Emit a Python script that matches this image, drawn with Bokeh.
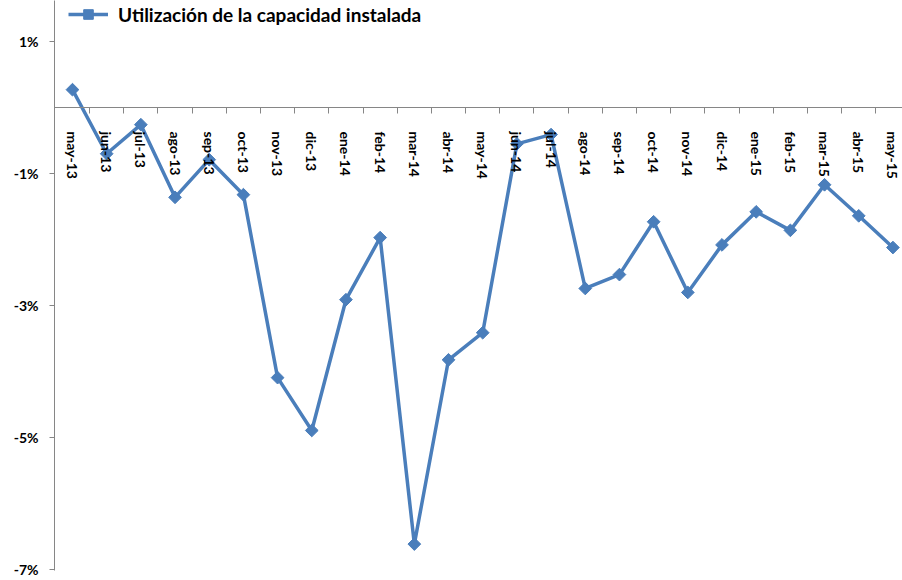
import numpy as np
from bokeh.plotting import figure
from bokeh.models import (Range1d, FixedTicker, LinearAxis, ColumnDataSource, Legend, LegendItem)
from bokeh.embed import file_html
from bokeh.resources import INLINE

months = ["may-13", "jun-13", "jul-13", "ago-13", "sep-13", "oct-13", "nov-13", "dic-13",
          "ene-14", "feb-14", "mar-14", "abr-14", "may-14", "jun-14", "jul-14", "ago-14",
          "sep-14", "oct-14", "nov-14", "dic-14", "ene-15", "feb-15", "mar-15", "abr-15", "may-15"]
values = [0.27, -0.70, -0.26, -1.36, -0.79, -1.32, -4.09, -4.89,
          -2.91, -1.97, -6.61, -3.82, -3.41, -0.55, -0.41, -2.74,
          -2.53, -1.73, -2.80, -2.08, -1.58, -1.86, -1.17, -1.64, -2.12]
y_ticks = [1, -1, -3, -5, -7]
y_tick_labels = ["1%", "-1%", "-3%", "-5%", "-7%"]
series_name = "Utilización de la capacidad instalada"

idx = list(range(len(months)))
src = ColumnDataSource(dict(x=idx, y=values, m=months))

BLUE = "#4A7EBB"
GRAY = "#868686"
FONT = "Lato"

p = figure(width=902, height=580, output_backend="svg", toolbar_location=None,
           x_range=Range1d(-0.526, 24.28), y_range=Range1d(-7.01, 1.62),
           x_axis_location=None, y_axis_location="left",
           min_border_left=54, min_border_right=0, min_border_top=0, min_border_bottom=10)
p.outline_line_color = None
p.grid.visible = False
p.background_fill_color = "white"

# y axis
ya = p.yaxis[0]
ya.ticker = FixedTicker(ticks=y_ticks)
ya.major_label_overrides = {t: l for t, l in zip(y_ticks, y_tick_labels)}
ya.axis_line_color = GRAY
ya.major_tick_line_color = GRAY
ya.major_tick_in = 0
ya.major_tick_out = 5
ya.minor_tick_line_color = None
ya.major_label_text_font = FONT
ya.major_label_text_font_style = "bold"
ya.major_label_text_font_size = "14px"
ya.major_label_text_color = "black"
ya.major_label_standoff = 11

# x axis at zero: tick marks between categories
xt = LinearAxis(fixed_location=0,
                ticker=FixedTicker(ticks=[i + 0.5 for i in idx[:-1]]),
                axis_line_color=GRAY, major_tick_line_color=GRAY,
                major_tick_in=0, major_tick_out=6, minor_tick_line_color=None,
                major_label_text_font_size="0px", major_label_text_color=None)
p.add_layout(xt, "below")

# x axis labels at category centers
xl = LinearAxis(fixed_location=0, ticker=FixedTicker(ticks=idx),
                axis_line_color=None, major_tick_line_color=None, minor_tick_line_color=None,
                major_label_orientation="vertical",
                major_label_text_font=FONT, major_label_text_font_style="bold",
                major_label_text_font_size="14px", major_label_text_color="black",
                major_label_standoff=18)
xl.major_label_overrides = {i: m for i, m in zip(idx, months)}
p.add_layout(xl, "below")

r_line = p.line("x", "y", source=src, line_color=BLUE, line_width=3.5)
r_mark = p.scatter("x", "y", source=src, marker="square", angle=np.pi / 4, size=9,
                   fill_color=BLUE, line_color=BLUE)

legend = Legend(items=[LegendItem(label=series_name, renderers=[r_line, r_mark])],
                location=(14, 544), orientation="horizontal",
                border_line_color=None, background_fill_alpha=0,
                padding=0, margin=0, spacing=0,
                glyph_width=40, glyph_height=24, label_height=24, label_standoff=10,
                label_text_font=FONT, label_text_font_style="bold",
                label_text_font_size="19px", label_text_color="black")
p.add_layout(legend)

open("out.html", "w").write(file_html(p, INLINE))
